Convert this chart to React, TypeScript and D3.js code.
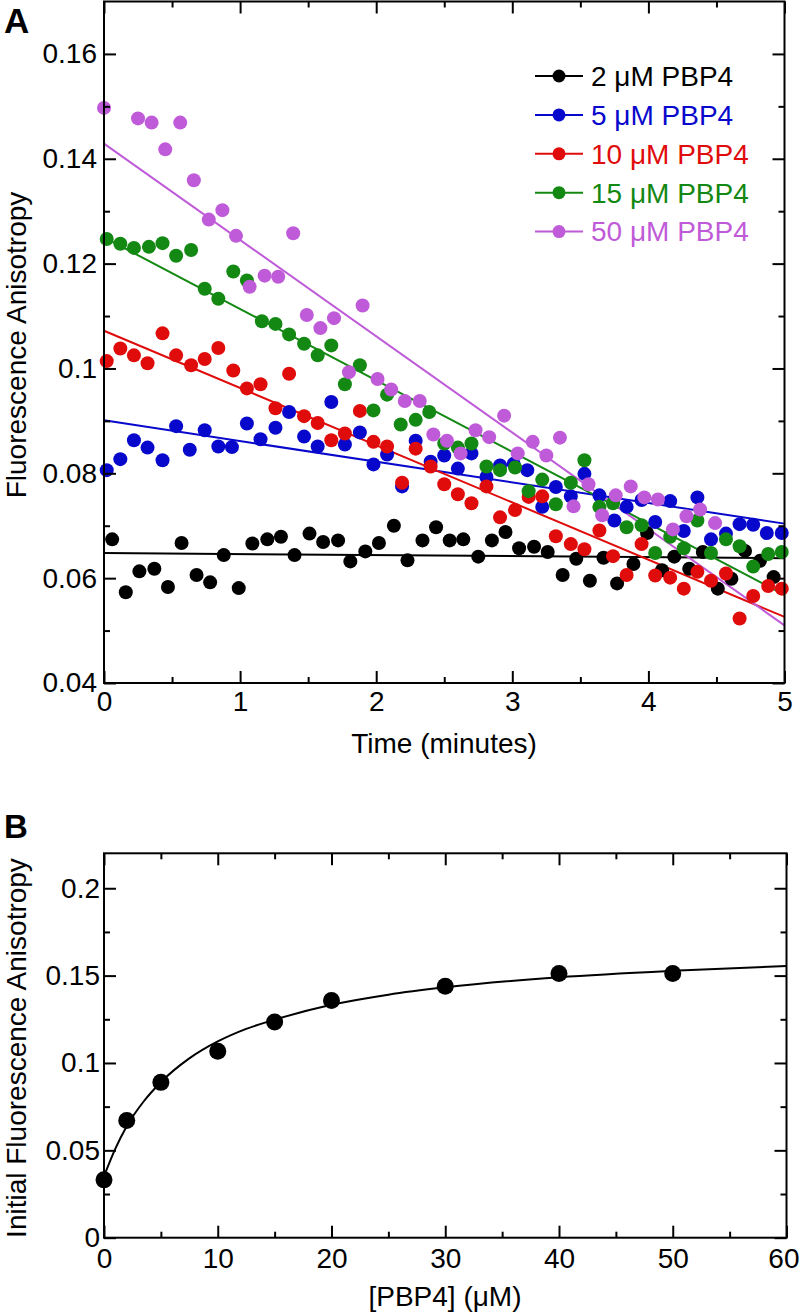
import React, { useEffect, useRef } from 'react';
import * as d3 from 'd3';

// ---- Panel A: anisotropy vs time, one series per PBP4 concentration ----
const seriesNames = ['2 μM PBP4', '5 μM PBP4', '10 μM PBP4', '15 μM PBP4', '50 μM PBP4'];
const seriesColors = ['#000000', '#0808cc', '#e00b0b', '#138813', '#bf5bd8'];

// [time (min), anisotropy]
const pbp2uM: [number, number][] = [
  [0.06, 0.0674], [0.16, 0.0573], [0.26, 0.0613], [0.37, 0.0618], [0.47, 0.0583], [0.57, 0.0667],
  [0.68, 0.0606], [0.78, 0.0592], [0.88, 0.0644], [0.99, 0.0581], [1.09, 0.0666], [1.2, 0.0674],
  [1.3, 0.0679], [1.4, 0.0644], [1.51, 0.0685], [1.61, 0.0669], [1.72, 0.0672], [1.81, 0.0632],
  [1.92, 0.0651], [2.02, 0.0667], [2.13, 0.07], [2.23, 0.0634], [2.34, 0.0672], [2.44, 0.0697],
  [2.54, 0.0672], [2.64, 0.0674], [2.75, 0.0641], [2.85, 0.0672], [2.95, 0.0688], [3.05, 0.0657],
  [3.16, 0.066], [3.26, 0.065], [3.37, 0.0606], [3.47, 0.0637], [3.57, 0.0595], [3.67, 0.0639],
  [3.77, 0.059], [3.89, 0.0627], [3.99, 0.0686], [4.1, 0.0615], [4.19, 0.0641], [4.3, 0.0618],
  [4.4, 0.065], [4.51, 0.058], [4.61, 0.0599], [4.71, 0.0652], [4.82, 0.0633], [4.92, 0.0602],
];
const pbp5uM: [number, number][] = [
  [0.02, 0.0806], [0.12, 0.0827], [0.22, 0.0863], [0.32, 0.0849], [0.43, 0.0825], [0.53, 0.089],
  [0.63, 0.0845], [0.74, 0.0882], [0.84, 0.0851], [0.94, 0.085], [1.05, 0.0895], [1.15, 0.0865],
  [1.26, 0.0887], [1.36, 0.0917], [1.47, 0.087], [1.57, 0.0851], [1.67, 0.0936], [1.77, 0.0855],
  [1.88, 0.0878], [1.98, 0.0817], [2.08, 0.0836], [2.19, 0.0775], [2.29, 0.0862], [2.4, 0.0822],
  [2.5, 0.0834], [2.6, 0.0809], [2.7, 0.0838], [2.81, 0.0793], [2.91, 0.0815], [3.01, 0.0818],
  [3.11, 0.0806], [3.22, 0.0736], [3.32, 0.0774], [3.43, 0.0756], [3.53, 0.0799], [3.64, 0.0758],
  [3.75, 0.071], [3.84, 0.0736], [3.95, 0.0749], [4.05, 0.0707], [4.16, 0.0747], [4.26, 0.069],
  [4.36, 0.0754], [4.46, 0.0674], [4.57, 0.0685], [4.67, 0.0703], [4.77, 0.0702], [4.87, 0.0686],
  [4.98, 0.0686],
];
const pbp10uM: [number, number][] = [
  [0.02, 0.1014], [0.12, 0.1038], [0.22, 0.1025], [0.32, 0.101], [0.43, 0.1067], [0.53, 0.1025],
  [0.64, 0.1006], [0.74, 0.1018], [0.84, 0.1039], [0.95, 0.0996], [1.05, 0.0962], [1.15, 0.097],
  [1.26, 0.0924], [1.36, 0.099], [1.47, 0.0909], [1.57, 0.0896], [1.67, 0.0863], [1.77, 0.0876],
  [1.88, 0.0919], [1.98, 0.086], [2.08, 0.0851], [2.19, 0.0782], [2.29, 0.0847], [2.4, 0.0813],
  [2.5, 0.0779], [2.6, 0.076], [2.7, 0.0743], [2.81, 0.0775], [2.91, 0.0716], [3.02, 0.073],
  [3.12, 0.0755], [3.22, 0.0756], [3.32, 0.068], [3.43, 0.0665], [3.53, 0.0655], [3.64, 0.0691],
  [3.74, 0.0642], [3.84, 0.0606], [3.95, 0.0665], [4.05, 0.0605], [4.16, 0.0601], [4.26, 0.058],
  [4.36, 0.0612], [4.46, 0.0595], [4.57, 0.0609], [4.67, 0.0523], [4.77, 0.0566], [4.88, 0.0585],
  [4.98, 0.058],
];
const pbp15uM: [number, number][] = [
  [0.02, 0.1247], [0.12, 0.1238], [0.22, 0.123], [0.33, 0.1232], [0.43, 0.1239], [0.53, 0.1215],
  [0.64, 0.1226], [0.74, 0.1152], [0.84, 0.1133], [0.95, 0.1185], [1.05, 0.1168], [1.16, 0.109],
  [1.26, 0.1085], [1.36, 0.1065], [1.47, 0.1047], [1.57, 0.1025], [1.67, 0.1044], [1.77, 0.097],
  [1.88, 0.1006], [1.98, 0.092], [2.08, 0.095], [2.18, 0.0893], [2.29, 0.0902], [2.39, 0.0917],
  [2.5, 0.0857], [2.6, 0.0849], [2.7, 0.0857], [2.81, 0.0813], [2.91, 0.0806], [3.02, 0.0811],
  [3.12, 0.0766], [3.22, 0.0788], [3.32, 0.0741], [3.43, 0.0782], [3.53, 0.0825], [3.64, 0.0736],
  [3.74, 0.0743], [3.84, 0.0697], [3.95, 0.0701], [4.05, 0.0648], [4.16, 0.0679], [4.26, 0.0657],
  [4.36, 0.071], [4.46, 0.0648], [4.57, 0.0674], [4.67, 0.0661], [4.77, 0.0622], [4.88, 0.0646],
  [4.98, 0.065],
];
const pbp50uM: [number, number][] = [
  [0.0, 0.1497], [0.25, 0.1477], [0.35, 0.1469], [0.45, 0.1418], [0.56, 0.1469], [0.66, 0.1359],
  [0.77, 0.1284], [0.87, 0.1302], [0.97, 0.1253], [1.07, 0.1156], [1.18, 0.1177], [1.28, 0.1175],
  [1.39, 0.1258], [1.49, 0.1102], [1.59, 0.1077], [1.69, 0.1096], [1.8, 0.0993], [1.9, 0.112],
  [2.01, 0.098], [2.11, 0.096], [2.21, 0.0938], [2.32, 0.0938], [2.42, 0.0874], [2.52, 0.0862],
  [2.62, 0.0838], [2.73, 0.0882], [2.83, 0.0869], [2.94, 0.091], [3.04, 0.0838], [3.15, 0.086],
  [3.25, 0.0834], [3.35, 0.0868], [3.45, 0.0737], [3.56, 0.0779], [3.66, 0.072], [3.76, 0.0758],
  [3.87, 0.0775], [3.97, 0.0754], [4.07, 0.075], [4.18, 0.0693], [4.28, 0.0718], [4.38, 0.0731],
  [4.49, 0.0705],
];
const seriesData = [pbp2uM, pbp5uM, pbp10uM, pbp15uM, pbp50uM];

// linear fits: value at t = 0 and at t = 5 min
const fitAtStart = [0.0648, 0.0901, 0.1072, 0.125, 0.1429];
const fitAtEnd = [0.0638, 0.0704, 0.0526, 0.0568, 0.051];

// ---- Panel B: initial anisotropy vs [PBP4] ----
const concentrations = [0, 2, 5, 10, 15, 20, 30, 40, 50];
const initialAnisotropy = [0.0331, 0.0671, 0.0889, 0.1067, 0.1235, 0.1357, 0.1439, 0.1512, 0.1512];
// binding fit curve
const fitConc = [0, 1, 2, 3.5, 5, 7.5, 10, 12.5, 15, 20, 25, 30, 40, 50, 60];
const fitAnis = [0.0352, 0.051, 0.0638, 0.0781, 0.089, 0.1026, 0.1123, 0.1195, 0.1248, 0.1333, 0.1391, 0.1433, 0.1491, 0.1528, 0.1555];

const FONT = "'Liberation Sans', Arial, Helvetica, sans-serif";
const fmt = (d: number) => String(+d.toFixed(3));

function drawAxes(g: any, x: any, y: any, opts: any) {
  const [x0, x1] = x.range();
  const [y0, y1] = y.range();
  const blank = () => '';
  const add = (tr: string, axis: any) => {
    const a = g.append('g').attr('transform', tr).call(axis);
    a.attr('font-family', FONT).attr('font-size', opts.fontSize);
    a.select('.domain').remove();
    a.selectAll('.tick line').attr('stroke-width', 2);
    a.selectAll('.tick text').attr('fill', '#000');
    return a;
  };
  const bottom = add(`translate(0,${y0})`, d3.axisBottom(x).tickValues(opts.xMajor).tickSize(-12).tickPadding(opts.xPad).tickFormat(fmt));
  add(`translate(0,${y0})`, d3.axisBottom(x).tickValues(opts.xMinor).tickSize(-6).tickFormat(blank));
  add(`translate(0,${y1})`, d3.axisTop(x).tickValues(opts.xMajor).tickSize(-12).tickFormat(blank));
  add(`translate(0,${y1})`, d3.axisTop(x).tickValues(opts.xMinor).tickSize(-6).tickFormat(blank));
  add(`translate(${x0},0)`, d3.axisLeft(y).tickValues(opts.yMajor).tickSize(-12).tickPadding(opts.yPad).tickFormat(fmt));
  add(`translate(${x0},0)`, d3.axisLeft(y).tickValues(opts.yMinor).tickSize(-6).tickFormat(blank));
  add(`translate(${x1},0)`, d3.axisRight(y).tickValues(opts.yMajor).tickSize(-12).tickFormat(blank));
  add(`translate(${x1},0)`, d3.axisRight(y).tickValues(opts.yMinor).tickSize(-6).tickFormat(blank));

  g.append('rect')
    .attr('x', x0).attr('y', y1)
    .attr('width', x1 - x0).attr('height', y0 - y1)
    .attr('fill', 'none').attr('stroke', '#000').attr('stroke-width', 2);
  return bottom;
}

export default function App() {
  const svgRef = useRef<SVGSVGElement>(null);

  useEffect(() => {
    if (!svgRef.current) return;
    const svg = d3.select(svgRef.current);
    svg.selectAll('*').remove();
    svg.attr('font-family', FONT);

    // ---------- Panel A ----------
    const xA = d3.scaleLinear().domain([0, 5]).range([104, 784.5]);
    const yA = d3.scaleLinear().domain([0.04, 0.17]).range([683, 1.5]);
    const gA = svg.append('g');

    // fitted lines first, dots on top
    seriesData.forEach((_, i) => {
      gA.append('line')
        .attr('x1', xA(0)).attr('y1', yA(fitAtStart[i]))
        .attr('x2', xA(5)).attr('y2', yA(fitAtEnd[i]))
        .attr('stroke', seriesColors[i]).attr('stroke-width', 2);
    });
    seriesData.forEach((data, i) => {
      gA.append('g').selectAll('circle')
        .data(data)
        .enter().append('circle')
        .attr('cx', d => xA(d[0]))
        .attr('cy', d => yA(d[1]))
        .attr('r', 7)
        .attr('fill', seriesColors[i]);
    });

    drawAxes(gA, xA, yA, {
      xMajor: d3.range(0, 5.01, 1),
      xMinor: d3.range(0.5, 5, 1),
      yMajor: d3.range(0.04, 0.1601, 0.02),
      yMinor: d3.range(0.05, 0.166, 0.02),
      xPad: 8, yPad: 7, fontSize: 28,
    });

    // legend
    const leg = gA.append('g');
    seriesNames.forEach((name, i) => {
      const ly = 76 + i * 38.9;
      leg.append('line').attr('x1', 535).attr('x2', 583).attr('y1', ly).attr('y2', ly)
        .attr('stroke', seriesColors[i]).attr('stroke-width', 2);
      leg.append('circle').attr('cx', 559).attr('cy', ly).attr('r', 6.5).attr('fill', seriesColors[i]);
      leg.append('text').attr('x', 591).attr('y', ly).attr('dy', '0.35em')
        .attr('font-size', 28).attr('fill', seriesColors[i]).text(name);
    });

    gA.append('text').attr('x', 444).attr('y', 753).attr('text-anchor', 'middle')
      .attr('font-size', 28).text('Time (minutes)');
    gA.append('text').attr('transform', 'translate(26,345) rotate(-90)').attr('text-anchor', 'middle')
      .attr('font-size', 28).text('Fluorescence Anisotropy');
    gA.append('text').attr('x', 4).attr('y', 33).attr('font-size', 35).attr('font-weight', 'bold').text('A');

    // ---------- Panel B ----------
    const xB = d3.scaleLinear().domain([0, 60]).range([104, 786.5]);
    const yB = d3.scaleLinear().domain([0, 0.22]).range([1237.7, 853.3]);
    const gB = svg.append('g');

    const fitLine = d3.line<number>()
      .x((_, i) => xB(fitConc[i]))
      .y(d => yB(d))
      .curve(d3.curveMonotoneX);
    gB.append('path').attr('d', fitLine(fitAnis) as string)
      .attr('fill', 'none').attr('stroke', '#000').attr('stroke-width', 2);

    gB.append('g').selectAll('circle')
      .data(concentrations)
      .enter().append('circle')
      .attr('cx', d => xB(d))
      .attr('cy', (_, i) => yB(initialAnisotropy[i]))
      .attr('r', 8.5)
      .attr('fill', '#000');

    const bottomB = drawAxes(gB, xB, yB, {
      xMajor: d3.range(0, 60.1, 10),
      xMinor: d3.range(5, 60, 10),
      yMajor: d3.range(0, 0.201, 0.05),
      yMinor: d3.range(0.025, 0.22, 0.05),
      xPad: 10, yPad: 4, fontSize: 28,
    });
    // last label sits on the page edge: keep it inside
    bottomB.selectAll('.tick text')
      .filter((d: number) => d === 60)
      .attr('text-anchor', 'end')
      .attr('x', 12.5);

    gB.append('text').attr('x', 445).attr('y', 1306).attr('text-anchor', 'middle')
      .attr('font-size', 28).text('[PBP4] (μM)');
    gB.append('text').attr('transform', 'translate(26,1048) rotate(-90)').attr('text-anchor', 'middle')
      .attr('font-size', 28).text('Initial Fluorescence Anisotropy');
    gB.append('text').attr('x', 4).attr('y', 838).attr('font-size', 33).attr('font-weight', 'bold').text('B');
  }, []);

  return (
    <svg
      ref={svgRef}
      width={800}
      height={1314}
      style={{ position: 'absolute', left: 0, top: 0, background: '#fff' }}
    />
  );
}
